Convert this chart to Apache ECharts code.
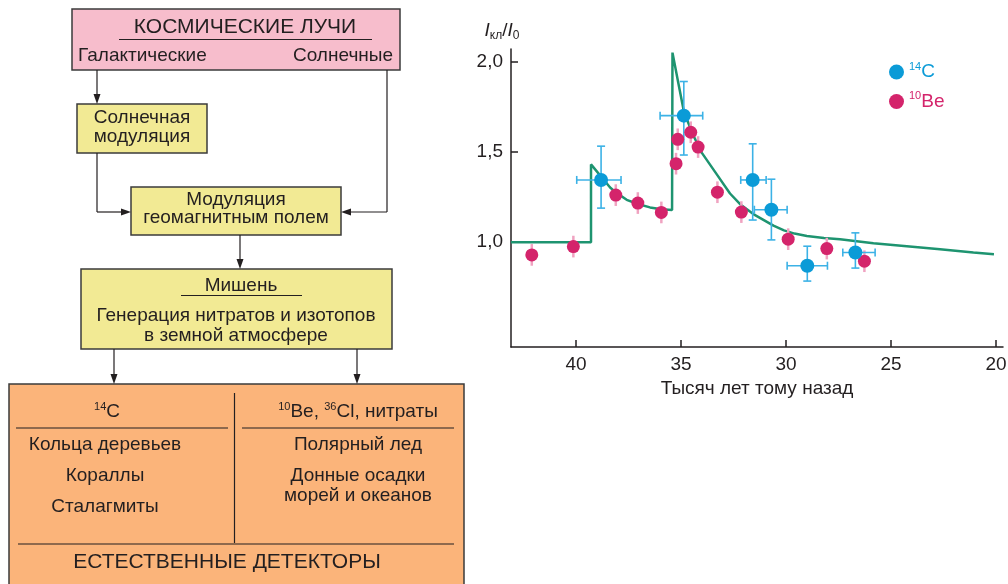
<!DOCTYPE html>
<html>
<head>
<meta charset="utf-8">
<script src="https://cdn.jsdelivr.net/npm/echarts@6/dist/echarts.min.js"></script>
<style>
html,body{margin:0;padding:0;background:#fff;}
#c{width:1008px;height:584px;}
</style>
</head>
<body>
<div id="c"></div>
<script>
// ---- data ----
const xTicks = [40, 35, 30, 25, 20];
const yTicks = [1.0, 1.5, 2.0];

// model curve (thousand years ago, I/I0)
const modelX = [43.1, 39.29, 39.29, 38.38, 38.11, 37.59, 37.06, 36.48, 35.94, 35.43, 35.41, 35.13, 34.86, 34.41, 34.01, 33.30, 32.67, 32.19, 31.56, 30.60, 30.10, 29.60, 29.01, 28.20, 27.43, 25.84, 24.25, 22.67, 21.08, 20.10];
const modelY = [1.0, 1.0, 1.431, 1.303, 1.276, 1.235, 1.212, 1.193, 1.183, 1.178, 2.05, 1.88, 1.72, 1.59, 1.495, 1.376, 1.270, 1.211, 1.156, 1.092, 1.066, 1.048, 1.035, 1.024, 1.016, 0.995, 0.978, 0.961, 0.943, 0.934];

// 14C points with error bars
const cX   = [38.81, 34.87, 31.59, 30.70, 28.99, 26.70];
const cY   = [1.345, 1.701, 1.345, 1.180, 0.870, 0.943];
const cXLo = [37.86, 33.97, 30.95, 29.95, 28.03, 25.76];
const cXHi = [39.97, 36.00, 32.16, 31.51, 29.95, 27.30];
const cYLo = [1.189, 1.483, 1.123, 1.013, 0.785, 0.857];
const cYHi = [1.532, 1.890, 1.545, 1.349, 0.978, 1.052];

// 10Be points
const beX = [42.11, 40.13, 38.11, 37.06, 35.94, 35.24, 35.16, 34.54, 34.19, 33.27, 32.13, 29.90, 28.06, 26.27];
const beY = [0.930, 0.976, 1.261, 1.217, 1.165, 1.435, 1.570, 1.609, 1.527, 1.277, 1.167, 1.017, 0.965, 0.895];
const beErr = [0.06, 0.06, 0.06, 0.06, 0.06, 0.06, 0.06, 0.06, 0.06, 0.06, 0.06, 0.06, 0.06, 0.06];

// ---- styling ----
const FONT = '"Liberation Sans", Arial, sans-serif';
const INK = '#231f20';
const BLUE = '#0b9bd7';
const BLUE_BAR = '#3cb2e6';
const MAG = '#d4246b';
const MAG_BAR = '#f0a3c1';
const GREEN = '#1e9470';

// ---- diagram helpers ----
function supRich(size) {
  return {
    n: {fontSize: size, fontFamily: FONT, fill: INK, color: INK, lineHeight: 22, verticalAlign: 'middle'},
    s: {fontSize: 11, fontFamily: FONT, fill: INK, color: INK, lineHeight: 22, verticalAlign: 'top'}
  };
}
function T(x, y, text, size, align, rich) {
  const st = {text: text, fill: INK, fontSize: size || 19, fontFamily: FONT,
    align: align || 'center', verticalAlign: 'middle'};
  if (rich) st.rich = rich;
  return {type: 'text', x: x, y: y, style: st, z: 20};
}
function R(x, y, w, h, fill) {
  return {type: 'rect', shape: {x: x, y: y, width: w, height: h},
    style: {fill: fill, stroke: '#3b3b3b', lineWidth: 1.5}, z: 5};
}
function L(x1, y1, x2, y2, w) {
  return {type: 'line', shape: {x1: x1, y1: y1, x2: x2, y2: y2},
    style: {stroke: INK, lineWidth: w || 1.2}, z: 10};
}
function A(x, y, dir) {
  let pts;
  if (dir === 'down') pts = [[x, y], [x - 3.5, y - 10], [x + 3.5, y - 10]];
  else if (dir === 'right') pts = [[x, y], [x - 10, y - 3.5], [x - 10, y + 3.5]];
  else pts = [[x, y], [x + 10, y - 3.5], [x + 10, y + 3.5]];
  return {type: 'polygon', shape: {points: pts}, style: {fill: INK}, z: 11};
}

const PINK = '#f7bdcc', YEL = '#f2ea94', ORG = '#fbb47a';
const diagram = [
  R(72, 9, 328, 61, PINK),
  T(245, 27, 'КОСМИЧЕСКИЕ ЛУЧИ', 21),
  L(119, 39.5, 372, 39.5, 1.2),
  T(78, 56, 'Галактические', 19, 'left'),
  T(393, 56, 'Солнечные', 19, 'right'),
  L(97, 70, 97, 96), A(97, 104, 'down'),
  L(387, 70, 387, 212), L(387, 212, 349, 212), A(341, 212, 'left'),
  R(77, 104, 130, 49, YEL),
  T(142, 118, 'Солнечная', 19), T(142, 137, 'модуляция', 19),
  L(97, 153, 97, 212), L(97, 212, 123, 212), A(131, 212, 'right'),
  R(131, 187, 210, 48, YEL),
  T(236, 200, 'Модуляция', 19), T(236, 218, 'геомагнитным полем', 19),
  L(240, 235, 240, 261), A(240, 269, 'down'),
  R(81, 269, 311, 80, YEL),
  T(241, 286, 'Мишень', 19), L(181, 295.5, 302, 295.5, 1.2),
  T(236, 316, 'Генерация нитратов и изотопов', 19),
  T(236, 336, 'в земной атмосфере', 19),
  L(114, 349, 114, 376), A(114, 384, 'down'),
  L(357, 349, 357, 376), A(357, 384, 'down'),
  R(9, 384, 455, 205, ORG),
  L(234.5, 393, 234.5, 543),
  T(107, 412, '{s|14}{n|C}', 19, 'center', supRich(19)),
  L(16, 428, 228, 428),
  T(105, 445, 'Кольца деревьев', 19),
  T(105, 476, 'Кораллы', 19),
  T(105, 507, 'Сталагмиты', 19),
  T(358, 412, '{s|10}{n|Be, }{s|36}{n|Cl, нитраты}', 19, 'center', supRich(19)),
  L(242, 428, 454, 428),
  T(358, 445, 'Полярный лед', 19),
  T(358, 476, 'Донные осадки', 19),
  T(358, 496, 'морей и океанов', 19),
  L(18, 544, 454, 544),
  T(227, 562, 'ЕСТЕСТВЕННЫЕ ДЕТЕКТОРЫ', 21),
  // y-axis name of the chart
  {type: 'text', x: 502, y: 31, z: 20, style: {
    text: '{i|I}{b|кл}{n|/}{i|I}{b|0}', align: 'center', verticalAlign: 'middle',
    fontSize: 19, fontFamily: FONT, fill: INK,
    rich: {
      i: {fontSize: 19, fontStyle: 'italic', fontFamily: FONT, fill: INK, lineHeight: 22, verticalAlign: 'middle'},
      n: {fontSize: 19, fontFamily: FONT, fill: INK, lineHeight: 22, verticalAlign: 'middle'},
      b: {fontSize: 12, fontFamily: FONT, fill: INK, lineHeight: 22, verticalAlign: 'bottom'}
    }
  }}
];

// ---- series data ----
const modelData = modelX.map((x, i) => [x, modelY[i]]);
const cData = cX.map((x, i) => [x, cY[i], cXLo[i], cXHi[i], cYLo[i], cYHi[i]]);
const beData = beX.map((x, i) => [x, beY[i], beErr[i]]);

function cErr(params, api) {
  const p = api.coord([api.value(0), api.value(1)]);
  const xl = api.coord([api.value(2), api.value(1)]);
  const xh = api.coord([api.value(3), api.value(1)]);
  const yl = api.coord([api.value(0), api.value(4)]);
  const yh = api.coord([api.value(0), api.value(5)]);
  const st = {stroke: BLUE_BAR, lineWidth: 1.6};
  const c = 4;
  const lines = [
    [xl[0], p[1], xh[0], p[1]],
    [xl[0], p[1] - c, xl[0], p[1] + c],
    [xh[0], p[1] - c, xh[0], p[1] + c],
    [p[0], yl[1], p[0], yh[1]],
    [p[0] - c, yl[1], p[0] + c, yl[1]],
    [p[0] - c, yh[1], p[0] + c, yh[1]]
  ];
  return {type: 'group', children: lines.map(l => ({
    type: 'line', shape: {x1: l[0], y1: l[1], x2: l[2], y2: l[3]}, style: st}))};
}
function beErrRender(params, api) {
  const lo = api.coord([api.value(0), api.value(1) - api.value(2)]);
  const hi = api.coord([api.value(0), api.value(1) + api.value(2)]);
  return {type: 'line', shape: {x1: lo[0], y1: lo[1], x2: hi[0], y2: hi[1]},
    style: {stroke: MAG_BAR, lineWidth: 2.5}};
}

const chart = echarts.init(document.getElementById('c'), null, {renderer: 'canvas'});
chart.setOption({
  animation: false,
  backgroundColor: '#fff',
  textStyle: {fontFamily: FONT},
  graphic: {elements: diagram},
  grid: {left: 511, right: 5, top: 49, bottom: 237, containLabel: false, outerBoundsMode: 'none'},
  legend: {
    data: ['14C', '10Be'],
    orient: 'vertical',
    left: 889, top: 61, padding: 0,
    itemWidth: 15, itemHeight: 15, itemGap: 9,
    icon: 'circle',
    formatter: function (name) {
      return name === '14C' ? '{cs|14}{cn|C}' : '{bs|10}{bn|Be}';
    },
    textStyle: {
      rich: {
        cs: {fontSize: 11, color: BLUE, fontFamily: FONT, lineHeight: 22, verticalAlign: 'top'},
        cn: {fontSize: 19, color: BLUE, fontFamily: FONT, lineHeight: 22},
        bs: {fontSize: 11, color: MAG, fontFamily: FONT, lineHeight: 22, verticalAlign: 'top'},
        bn: {fontSize: 19, color: MAG, fontFamily: FONT, lineHeight: 22}
      }
    }
  },
  xAxis: {
    type: 'value', inverse: true, min: 19.67, max: 43.1,
    axisLine: {lineStyle: {color: INK, width: 1.5}},
    axisTick: {show: true, inside: true, length: 7, customValues: xTicks, lineStyle: {color: INK, width: 1.5}},
    axisLabel: {customValues: xTicks, fontSize: 19, color: INK, fontFamily: FONT, margin: 8},
    splitLine: {show: false},
    name: 'Тысяч лет тому назад', nameLocation: 'middle', nameGap: 32,
    nameTextStyle: {fontSize: 19, color: INK, fontFamily: FONT}
  },
  yAxis: {
    type: 'value', min: 0.42, max: 2.07,
    axisLine: {show: true, lineStyle: {color: INK, width: 1.5}},
    axisTick: {show: true, inside: true, length: 7, customValues: yTicks, lineStyle: {color: INK, width: 1.5}},
    axisLabel: {customValues: yTicks, fontSize: 19, color: INK, fontFamily: FONT, margin: 8,
      formatter: v => v.toFixed(1).replace('.', ',')},
    splitLine: {show: false}
  },
  series: [
    {name: 'model', type: 'line', data: modelData, symbol: 'none', z: 1,
      lineStyle: {color: GREEN, width: 2.5}},
    {name: 'beErr', type: 'custom', data: beData, renderItem: beErrRender, z: 2},
    {name: 'cErr', type: 'custom', data: cData, renderItem: cErr, z: 2},
    {name: '10Be', type: 'scatter', data: beData, symbolSize: 13, z: 3,
      itemStyle: {color: MAG, opacity: 1}},
    {name: '14C', type: 'scatter', data: cData, symbolSize: 14, z: 4,
      itemStyle: {color: BLUE, opacity: 1}}
  ]
});
</script>
</body>
</html>
